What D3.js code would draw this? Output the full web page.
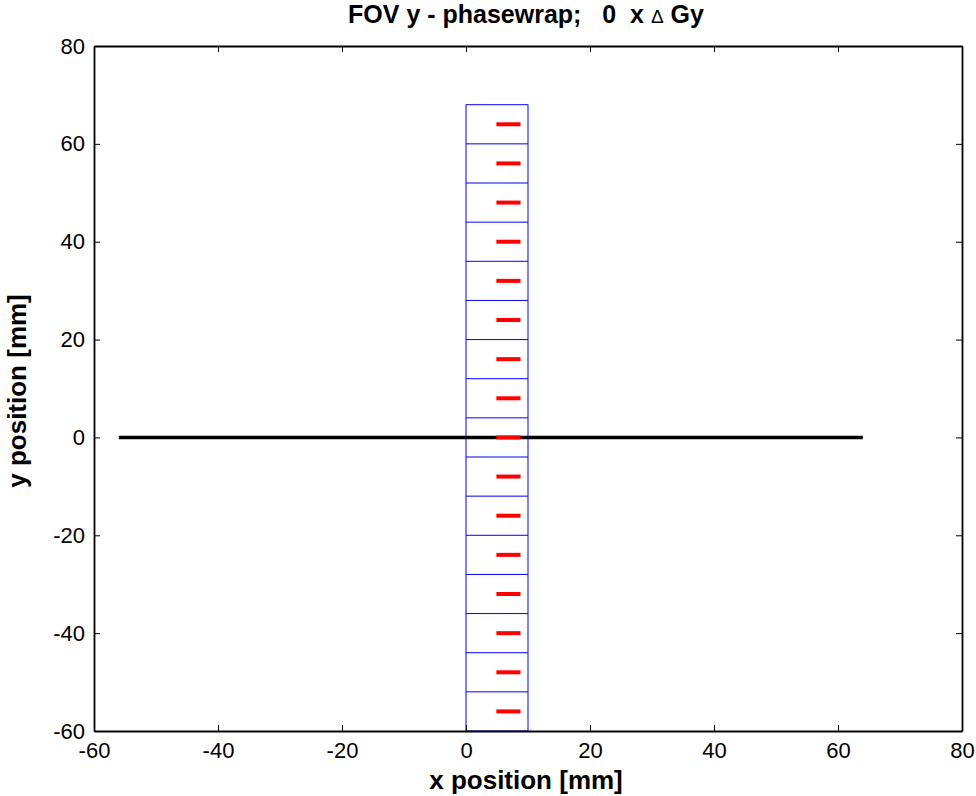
<!DOCTYPE html>
<html>
<head>
<meta charset="utf-8">
<script src="https://cdn.jsdelivr.net/npm/d3@7"></script>
<style>
  body { margin: 0; background: #fff; }
  text { font-family: "Liberation Sans", Arial, sans-serif; }
</style>
</head>
<body>
<div class="canvas"></div>
<script>
// data
const xTicks = [-60, -40, -20, 0, 20, 40, 60, 80];
const yTicks = [-60, -40, -20, 0, 20, 40, 60, 80];
// voxel grid boundaries (y), column spans x 0..10
const cellEdges = [68, 60, 52, 44, 36, 28, 20, 12, 4, -4, -12, -20, -28, -36, -44, -52, -60];
const cellX = [0, 10];
// red marks at cell centres
const markY = [64, 56, 48, 40, 32, 24, 16, 8, 0, -8, -16, -24, -32, -40, -48, -56];
const markX = [4.9, 8.8];
// black profile line
const lineX = [-56, 64];
const lineY = [0, 0];

const svg = d3.select('.canvas')
  .append('svg')
  .attr('width', 976)
  .attr('height', 796);

const margin = { top: 46, right: 14, bottom: 65, left: 94 };
const graphWidth = 976 - margin.left - margin.right;
const graphHeight = 796 - margin.top - margin.bottom;

const graph = svg.append('g')
  .attr('transform', `translate(${margin.left},${margin.top})`);

const x = d3.scaleLinear().domain([-60, 80]).range([0, graphWidth]);
const y = d3.scaleLinear().domain([-60, 80]).range([graphHeight, 0]);

// voxel column
graph.append('rect')
  .attr('x', x(cellX[0]))
  .attr('y', y(cellEdges[0]))
  .attr('width', x(cellX[1]) - x(cellX[0]))
  .attr('height', y(cellEdges[cellEdges.length - 1]) - y(cellEdges[0]))
  .attr('fill', 'none')
  .attr('stroke', '#0000ff')
  .attr('stroke-width', 1);

graph.selectAll('line.cell')
  .data(cellEdges.slice(1, -1))
  .enter()
  .append('line')
  .attr('class', 'cell')
  .attr('x1', x(cellX[0]))
  .attr('x2', x(cellX[1]))
  .attr('y1', d => y(d))
  .attr('y2', d => y(d))
  .attr('stroke', '#0000ff')
  .attr('stroke-width', 1);

// black line
graph.append('line')
  .attr('x1', x(lineX[0]))
  .attr('x2', x(lineX[1]))
  .attr('y1', y(lineY[0]))
  .attr('y2', y(lineY[1]))
  .attr('stroke', '#000')
  .attr('stroke-width', 3.5);

// red marks
graph.selectAll('line.mark')
  .data(markY)
  .enter()
  .append('line')
  .attr('class', 'mark')
  .attr('x1', x(markX[0]))
  .attr('x2', x(markX[1]))
  .attr('y1', d => y(d))
  .attr('y2', d => y(d))
  .attr('stroke', '#ff0000')
  .attr('stroke-width', 4);

// axes (matlab style: ticks inside, box)
const tickLen = 6;
const fmt = d => String(d);
const xAxisB = d3.axisBottom(x).tickValues(xTicks).tickFormat(fmt).tickSizeInner(-tickLen).tickSizeOuter(0).tickPadding(11);
const xAxisT = d3.axisTop(x).tickValues(xTicks).tickSizeInner(-tickLen).tickSizeOuter(0).tickFormat('');
const yAxisL = d3.axisLeft(y).tickValues(yTicks).tickFormat(fmt).tickSizeInner(-tickLen).tickSizeOuter(0).tickPadding(9);
const yAxisR = d3.axisRight(y).tickValues(yTicks).tickSizeInner(-tickLen).tickSizeOuter(0).tickFormat('');

const axes = [
  graph.append('g').attr('transform', `translate(0,${graphHeight})`).call(xAxisB),
  graph.append('g').call(xAxisT),
  graph.append('g').call(yAxisL),
  graph.append('g').attr('transform', `translate(${graphWidth},0)`).call(yAxisR)
];
axes.forEach(a => {
  a.select('.domain').attr('stroke', '#000').attr('stroke-width', 1.8);
  a.selectAll('.tick line').attr('stroke', '#000').attr('stroke-width', 1);
  a.selectAll('text')
    .attr('font-size', 22)
    .attr('fill', '#000')
    .style('font-family', '"Liberation Sans", Arial, sans-serif');
});

// title
const title = svg.append('text')
  .attr('x', 526)
  .attr('y', 23)
  .attr('text-anchor', 'middle')
  .attr('font-size', 25)
  .attr('font-weight', 'bold')
  .attr('xml:space', 'preserve');
title.append('tspan').text('FOV y - phasewrap;\u00a0\u00a0\u00a00\u00a0\u00a0x ');
title.append('tspan').attr('font-size', 19).attr('font-weight', 'normal').text('\u0394');
title.append('tspan').text(' Gy');

// axis labels
svg.append('text')
  .attr('x', 526)
  .attr('y', 789)
  .attr('text-anchor', 'middle')
  .attr('font-size', 26)
  .attr('font-weight', 'bold')
  .text('x position [mm]');

svg.append('text')
  .attr('transform', 'translate(26,391) rotate(-90)')
  .attr('text-anchor', 'middle')
  .attr('font-size', 26)
  .attr('font-weight', 'bold')
  .text('y position [mm]');
</script>
</body>
</html>
